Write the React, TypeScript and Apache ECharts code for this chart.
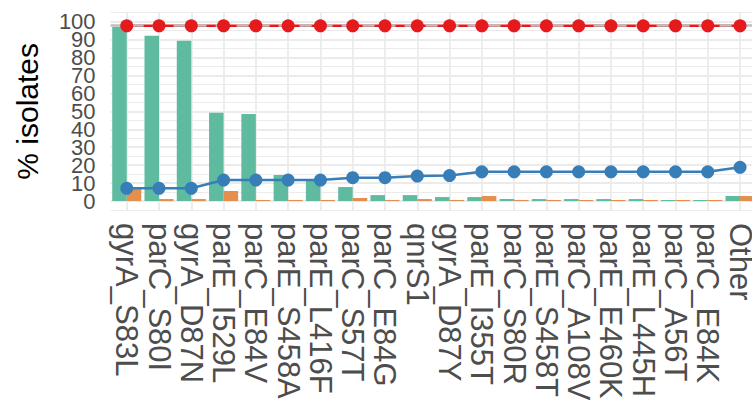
import React, { useEffect, useRef } from 'react';
import * as echarts from 'echarts';

const categories = [
  'gyrA_S83L', 'parC_S80I', 'gyrA_D87N', 'parE_I529L', 'parC_E84V',
  'parE_S458A', 'parE_L416F', 'parC_S57T', 'parC_E84G', 'qnrS1',
  'gyrA_D87Y', 'parE_I355T', 'parC_S80R', 'parE_S458T', 'parC_A108V',
  'parE_E460K', 'parE_L445H', 'parC_A56T', 'parC_E84K', 'Other',
];
const greenValues = [97.2, 92.2, 89.4, 49.2, 48.5, 14.5, 11.7, 7.8, 3.3, 3.3, 2.2, 2.2, 1.1, 1.1, 1.1, 1.1, 1.1, 0.6, 0.6, 2.8];
const orangeValues = [6.7, 1.1, 1.1, 5.6, 0.6, 0.6, 0.6, 1.7, 0.6, 1.1, 0.6, 2.8, 0.6, 0.6, 0.6, 0.6, 0.6, 0.6, 0.6, 2.8];
const blueValues = [7.1, 7.1, 7.1, 11.7, 11.7, 11.7, 11.7, 13.0, 13.0, 13.9, 14.2, 16.3, 16.3, 16.3, 16.3, 16.3, 16.3, 16.3, 16.3, 18.8];
const redValues = [97.7, 97.7, 97.7, 97.7, 97.7, 97.7, 97.7, 97.7, 97.7, 97.7, 97.7, 97.7, 97.7, 97.7, 97.7, 97.7, 97.7, 97.7, 97.7, 97.7];
const referenceLine = 98;
const majorBreaks = [0, 10, 20, 30, 40, 50, 60, 70, 80, 90, 100];

const FONT = 'Liberation Sans, Arial, Helvetica, sans-serif';

export default function App() {
  const ref = useRef<HTMLDivElement>(null);

  useEffect(() => {
    if (!ref.current) return;
    const chart = echarts.init(ref.current, null, { renderer: 'svg' });
    const gridColor = '#EBEBEB';
    chart.setOption({
      animation: false,
      backgroundColor: '#ffffff',
      textStyle: { fontFamily: FONT },
      grid: {
        left: 110.6,
        right: -4.2,
        top: 12.7,
        bottom: 195,
        containLabel: false,
        outerBoundsMode: 'none',
      },
      xAxis: {
        type: 'category',
        data: categories,
        boundaryGap: true,
        axisLine: { show: false },
        axisTick: { show: false },
        splitLine: { show: false },
        axisLabel: {
          interval: 0,
          rotate: -90,
          fontSize: 31,
          color: '#4D4D4D',
          fontFamily: FONT,
          margin: 13,
        },
      },
      yAxis: {
        type: 'value',
        min: -5,
        max: 105,
        interval: 5,
        name: '% isolates',
        nameLocation: 'middle',
        nameGap: 68,
        nameRotate: 90,
        nameTextStyle: { fontSize: 30, color: '#000000', fontFamily: FONT },
        axisLine: { show: false },
        axisTick: { show: false },
        splitLine: { show: true, lineStyle: { color: gridColor, width: 1 } },
        axisLabel: {
          fontSize: 22,
          lineHeight: 16,
          color: '#4D4D4D',
          fontFamily: FONT,
          margin: 15,
          formatter: (v: number) => (v >= 0 && v % 10 === 0 ? String(v) : ''),
        },
      },
      series: [
        {
          type: 'line',
          data: [],
          z: 1,
          silent: true,
          markLine: {
            z: 1,
            silent: true,
            symbol: ['none', 'none'],
            label: { show: false },
            animation: false,
            lineStyle: { color: gridColor, width: 1.8, type: 'solid' },
            data: [
              ...categories.map((_, i) => ({ xAxis: i })),
              ...majorBreaks.map((v) => ({ yAxis: v })),
            ],
          },
        },
        {
          name: 'green',
          type: 'bar',
          data: greenValues,
          barGap: '0%',
          barCategoryGap: '10%',
          itemStyle: { color: '#5FBBA0' },
          z: 2,
        },
        {
          name: 'orange',
          type: 'bar',
          data: orangeValues,
          barGap: '0%',
          barCategoryGap: '10%',
          itemStyle: { color: '#E48F4E' },
          z: 2,
        },
        {
          name: 'blue',
          type: 'line',
          data: blueValues,
          symbol: 'circle',
          symbolSize: 13,
          showSymbol: true,
          lineStyle: { color: '#377EB8', width: 2.5 },
          itemStyle: { color: '#377EB8', borderWidth: 0 },
          z: 3,
        },
        {
          name: 'red',
          type: 'line',
          data: redValues,
          showSymbol: false,
          symbol: 'none',
          lineStyle: { color: '#E41A1C', width: 2.5 },
          z: 3,
        },
        {
          type: 'line',
          data: [],
          z: 4,
          silent: true,
          markLine: {
            z: 4,
            silent: true,
            symbol: ['none', 'none'],
            label: { show: false },
            animation: false,
            lineStyle: { color: '#BEBEBE', width: 2.5, type: [12, 9] },
            data: [{ yAxis: referenceLine }],
          },
        },
        {
          name: 'redPoints',
          type: 'scatter',
          data: redValues,
          symbol: 'circle',
          symbolSize: 13,
          itemStyle: { color: '#E41A1C', opacity: 1 },
          z: 5,
        },
      ],
    });
    return () => chart.dispose();
  }, []);

  return (
    <div
      ref={ref}
      style={{ position: 'fixed', left: 0, top: 0, width: 752, height: 405 }}
    />
  );
}
